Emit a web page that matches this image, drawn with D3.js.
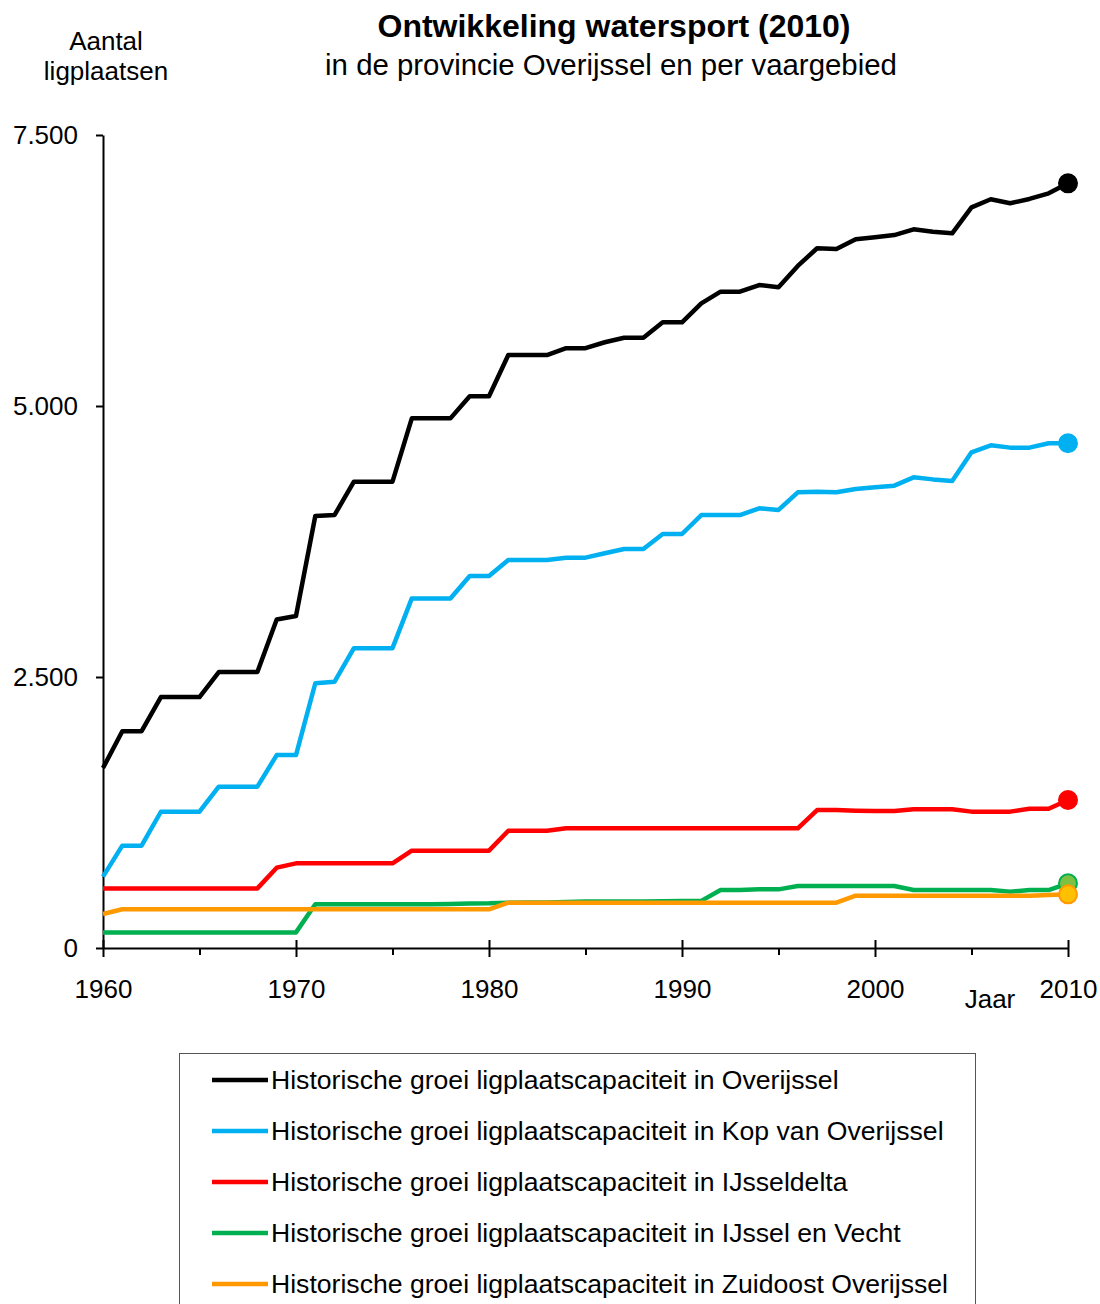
<!DOCTYPE html>
<html>
<head>
<meta charset="utf-8">
<script src="https://cdn.jsdelivr.net/npm/d3@7"></script>
<style>
  body { margin: 0; background: #fff; }
  text { font-family: "Liberation Sans", Arial, sans-serif; fill: #000; }
</style>
</head>
<body>
<div id="chart"></div>
<script>
// data
var years = [1960, 1961, 1962, 1963, 1964, 1965, 1966, 1967, 1968, 1969,
             1970, 1971, 1972, 1973, 1974, 1975, 1976, 1977, 1978, 1979,
             1980, 1981, 1982, 1983, 1984, 1985, 1986, 1987, 1988, 1989,
             1990, 1991, 1992, 1993, 1994, 1995, 1996, 1997, 1998, 1999,
             2000, 2001, 2002, 2003, 2004, 2005, 2006, 2007, 2008, 2009, 2010];

var overijssel = [1660, 2000, 2000, 2315, 2315, 2315, 2546, 2546, 2546, 3030,
                  3063, 3985, 3995, 4302, 4302, 4302, 4886, 4886, 4886, 5090,
                  5090, 5470, 5470, 5470, 5533, 5533, 5588, 5630, 5630, 5772,
                  5772, 5947, 6055, 6055, 6116, 6095, 6292, 6455, 6448, 6538,
                  6556, 6577, 6630, 6608, 6593, 6833, 6907, 6870, 6910, 6962, 7054];

var kopVanOverijssel = [658, 944, 944, 1257, 1257, 1257, 1488, 1488, 1488, 1780,
                        1780, 2442, 2457, 2766, 2766, 2766, 3225, 3225, 3225, 3432,
                        3432, 3579, 3579, 3579, 3601, 3601, 3641, 3681, 3681, 3819,
                        3819, 3994, 3994, 3994, 4056, 4041, 4204, 4210, 4204, 4234,
                        4250, 4265, 4342, 4323, 4308, 4573, 4637, 4616, 4616, 4656, 4656];

var ijsseldelta = [550, 550, 550, 550, 550, 550, 550, 550, 550, 741,
                   781, 781, 781, 781, 781, 781, 898, 898, 898, 898,
                   898, 1082, 1082, 1082, 1104, 1104, 1104, 1104, 1104, 1104,
                   1104, 1104, 1104, 1104, 1104, 1104, 1104, 1273, 1273, 1267,
                   1264, 1264, 1279, 1279, 1279, 1258, 1258, 1258, 1285, 1285, 1365];

var ijsselEnVecht = [144, 144, 144, 144, 144, 144, 144, 144, 144, 144,
                     144, 403, 403, 403, 403, 403, 403, 403, 405, 410,
                     412, 418, 420, 420, 425, 428, 430, 430, 430, 432,
                     433, 435, 535, 535, 541, 541, 572, 572, 572, 572,
                     572, 572, 535, 535, 535, 535, 535, 520, 535, 535, 597];

var zuidoost = [314, 357, 357, 357, 357, 357, 357, 357, 357, 357,
                357, 357, 357, 357, 357, 357, 357, 357, 357, 357,
                357, 418, 418, 418, 418, 418, 418, 418, 418, 418,
                418, 418, 418, 418, 418, 418, 418, 418, 418, 483,
                483, 483, 483, 483, 483, 483, 483, 483, 483, 490, 495];

var seriesNames = ["Historische groei ligplaatscapaciteit in Overijssel",
                   "Historische groei ligplaatscapaciteit in Kop van Overijssel",
                   "Historische groei ligplaatscapaciteit in IJsseldelta",
                   "Historische groei ligplaatscapaciteit in IJssel en Vecht",
                   "Historische groei ligplaatscapaciteit in Zuidoost Overijssel"];
var seriesValues = [overijssel, kopVanOverijssel, ijsseldelta, ijsselEnVecht, zuidoost];
var lineColors = ["#000000", "#00b0f0", "#ff0000", "#00b050", "#ff9900"];
var dotFill = ["#000000", "#00b0f0", "#ff0000", "#7cc142", "#ffc000"];
var dotStroke = ["#000000", "#00b0f0", "#ff0000", "#00b050", "#ff9900"];

var yTicks = [0, 2500, 5000, 7500];
var xTicks = [1960, 1965, 1970, 1975, 1980, 1985, 1990, 1995, 2000, 2005, 2010];

var svgWidth = 1100, svgHeight = 1304;
var margin = { top: 135, left: 103, right: 32, bottom: 356 };
var width = svgWidth - margin.left - margin.right;
var height = svgHeight - margin.top - margin.bottom;

var svg = d3.select("#chart").append("svg")
  .attr("width", svgWidth)
  .attr("height", svgHeight);

// titles
svg.append("text")
  .attr("x", 614).attr("y", 37)
  .attr("text-anchor", "middle")
  .attr("font-size", "32px")
  .attr("font-weight", "bold")
  .text("Ontwikkeling watersport (2010)");

svg.append("text")
  .attr("x", 611).attr("y", 75)
  .attr("text-anchor", "middle")
  .attr("font-size", "29.4px")
  .text("in de provincie Overijssel en per vaargebied");

svg.append("text")
  .attr("x", 106).attr("y", 50)
  .attr("text-anchor", "middle")
  .attr("font-size", "26px")
  .text("Aantal");

svg.append("text")
  .attr("x", 106).attr("y", 80)
  .attr("text-anchor", "middle")
  .attr("font-size", "26px")
  .text("ligplaatsen");

var chartGroup = svg.append("g")
  .attr("transform", `translate(${margin.left}, ${margin.top})`);

var xScale = d3.scaleLinear().domain([1960, 2010]).range([0, width]);
var yScale = d3.scaleLinear().domain([0, 7500]).range([height, 0]);

var nl = d3.formatLocale({ decimal: ",", thousands: ".", grouping: [3], currency: ["", ""] });

// y axis
var yAxis = d3.axisLeft(yScale)
  .tickValues(yTicks)
  .tickFormat(nl.format(","))
  .tickSize(7)
  .tickSizeOuter(0)
  .tickPadding(18);

var yG = chartGroup.append("g").call(yAxis);
yG.select(".domain").attr("stroke", "#000").attr("stroke-width", 2);
yG.selectAll(".tick line").attr("stroke", "#000").attr("stroke-width", 2);
yG.selectAll(".tick text")
  .attr("font-size", "26px")
  .attr("font-family", "Liberation Sans, Arial, sans-serif")
  .attr("fill", "#000");

// x axis
var xAxis = d3.axisBottom(xScale)
  .tickValues(xTicks)
  .tickFormat(d => d % 10 === 0 ? d : "")
  .tickSize(7)
  .tickSizeOuter(0);

var xG = chartGroup.append("g")
  .attr("transform", `translate(0, ${height})`)
  .call(xAxis);
xG.select(".domain").attr("stroke", "#000").attr("stroke-width", 2);
xG.selectAll(".tick line")
  .attr("stroke", "#000").attr("stroke-width", 2)
  .attr("y1", d => d % 10 === 0 ? -8 : 0)
  .attr("y2", d => d % 10 === 0 ? 9 : 7);
xG.selectAll(".tick text")
  .attr("font-size", "26px")
  .attr("font-family", "Liberation Sans, Arial, sans-serif")
  .attr("fill", "#000")
  .attr("dy", null)
  .attr("y", 50);

chartGroup.append("text")
  .attr("x", 887).attr("y", height + 60)
  .attr("text-anchor", "middle")
  .attr("font-size", "26px")
  .text("Jaar");

// lines
var line = d3.line()
  .x((d, i) => xScale(years[i]))
  .y(d => yScale(d));

seriesValues.forEach(function(vals, k) {
  chartGroup.append("path")
    .datum(vals)
    .attr("fill", "none")
    .attr("stroke", lineColors[k])
    .attr("stroke-width", 4.5)
    .attr("stroke-linejoin", "round")
    .attr("d", line);
});

// end markers
seriesValues.forEach(function(vals, k) {
  var last = vals.length - 1;
  chartGroup.append("circle")
    .attr("cx", xScale(years[last]))
    .attr("cy", yScale(vals[last]))
    .attr("r", 9)
    .attr("fill", dotFill[k])
    .attr("stroke", dotStroke[k])
    .attr("stroke-width", 2);
});

// legend
var legend = svg.append("g").attr("transform", "translate(179, 1053)");
legend.append("rect")
  .attr("x", 0.5).attr("y", 0.5)
  .attr("width", 796).attr("height", 300)
  .attr("fill", "#fff")
  .attr("stroke", "#555")
  .attr("stroke-width", 1);

var items = legend.selectAll(".item")
  .data(seriesNames)
  .enter()
  .append("g")
  .attr("transform", (d, i) => `translate(0, ${27 + i * 51})`);

items.append("line")
  .attr("x1", 33).attr("x2", 89)
  .attr("stroke", (d, i) => lineColors[i])
  .attr("stroke-width", 4.5);

items.append("text")
  .attr("x", 92).attr("y", 9)
  .attr("font-size", "26.6px")
  .text(d => d);
</script>
</body>
</html>
